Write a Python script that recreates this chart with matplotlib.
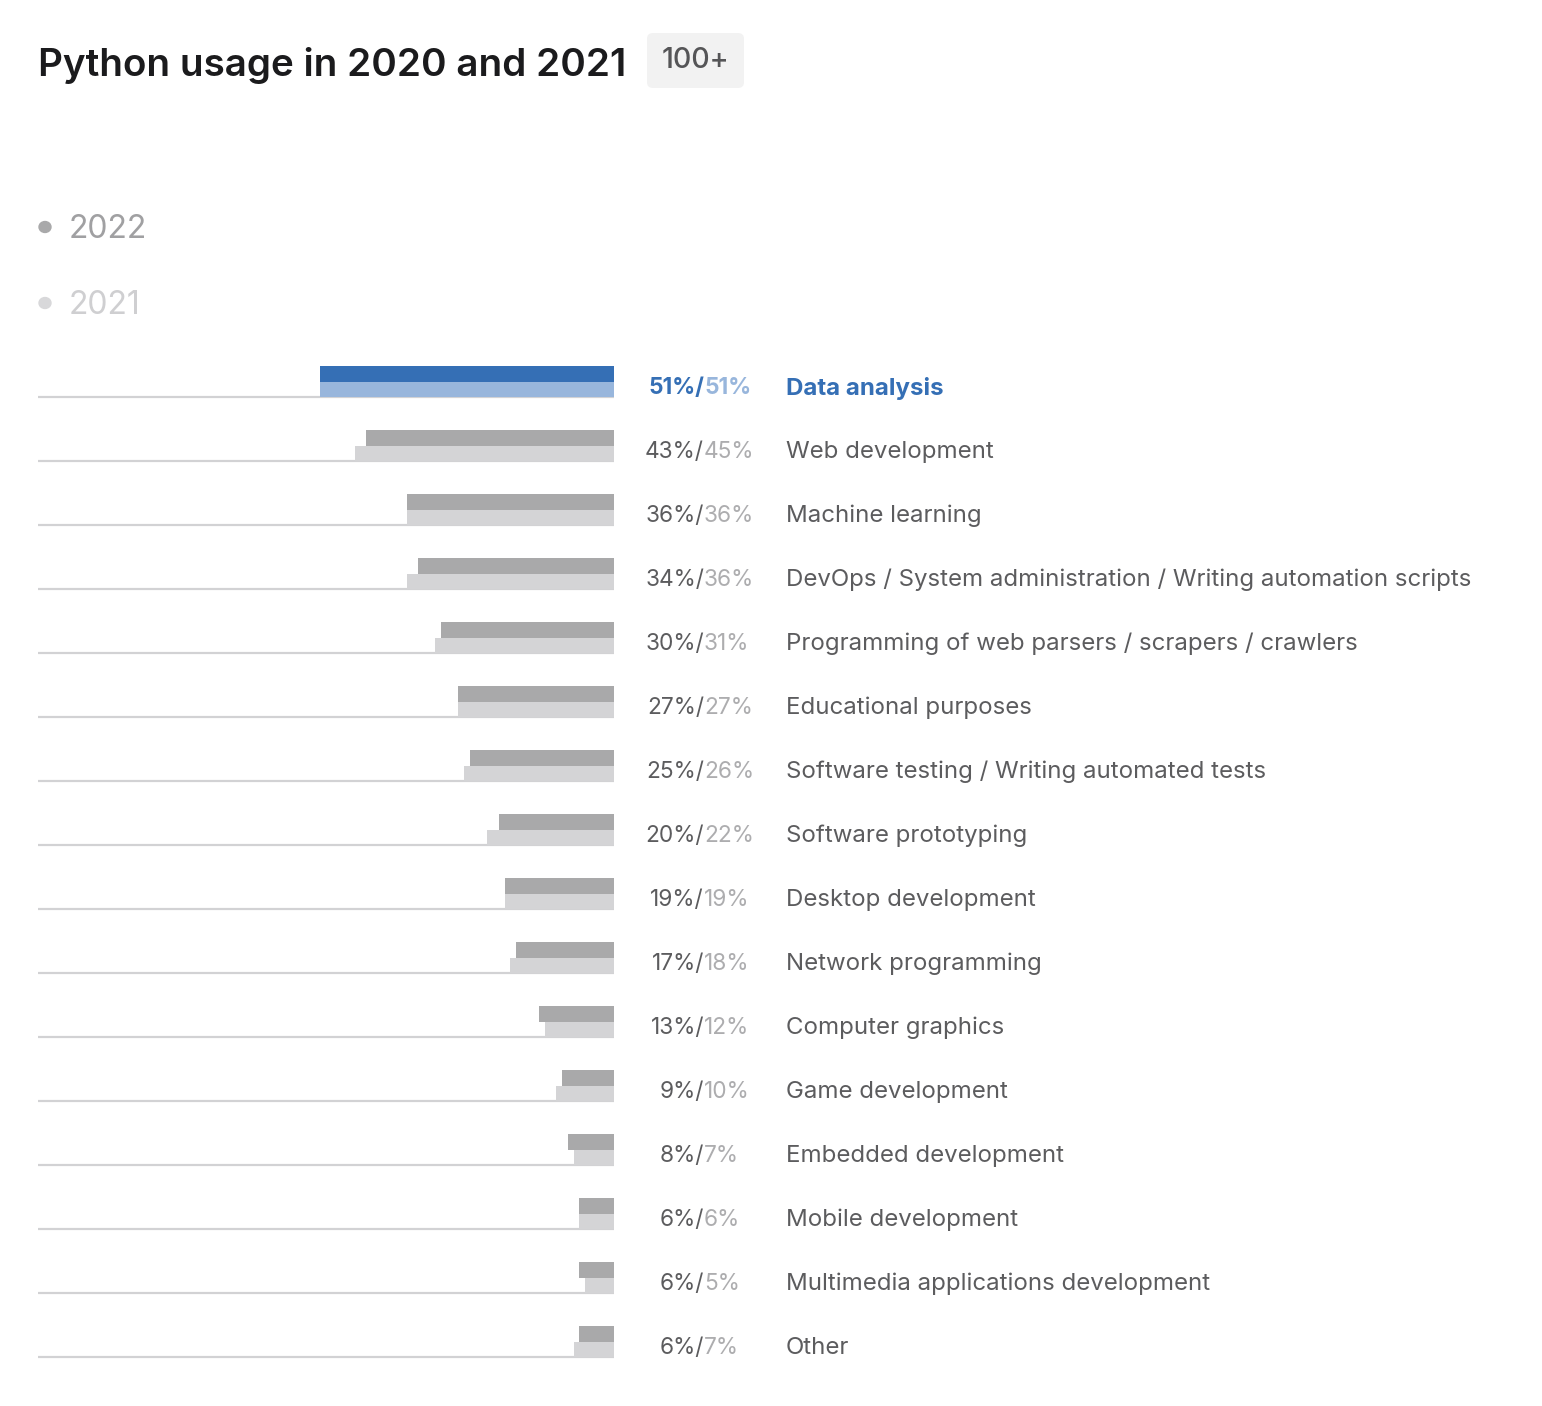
import matplotlib
matplotlib.use('Agg')
import matplotlib.pyplot as plt
from matplotlib.patches import FancyBboxPatch
import matplotlib.transforms as mtransforms

plt.rcParams['font.family'] = ['Inter', 'DejaVu Sans']

categories = ['Data analysis', 'Web development', 'Machine learning',
              'DevOps / System administration / Writing automation scripts',
              'Programming of web parsers / scrapers / crawlers',
              'Educational purposes', 'Software testing / Writing automated tests',
              'Software prototyping', 'Desktop development', 'Network programming',
              'Computer graphics', 'Game development', 'Embedded development',
              'Mobile development', 'Multimedia applications development', 'Other']
values_2022 = [51, 43, 36, 34, 30, 27, 25, 20, 19, 17, 13, 9, 8, 6, 6, 6]
values_2021 = [51, 45, 36, 36, 31, 27, 26, 22, 19, 18, 12, 10, 7, 6, 5, 7]

W, H = 1542, 1406
fig = plt.figure(figsize=(W / 100, H / 100), dpi=100)

# bar area: x 38..614 px, rows every 64 px, first baseline at 397 px
ax_l, ax_r = 38, 614
ax_top, ax_bot = 397 - 0.75 * 64, 397 + 15.25 * 64
ax = fig.add_axes([ax_l / W, 1 - ax_bot / H, (ax_r - ax_l) / W, (ax_bot - ax_top) / H])
ax.set_xlim(100, 0)
ax.set_ylim(15.25, -0.75)
ax.axis('off')

hb = 15.5 / 64
dark, light = '#a9a9aa', '#d4d4d6'
blue_d, blue_l = '#356fb5', '#98b6dc'

for i, (a, b) in enumerate(zip(values_2022, values_2021)):
    c1, c2 = (blue_d, blue_l) if i == 0 else (dark, light)
    ax.plot([100, 0], [i, i], color='#d2d2d4', lw=1.6, solid_capstyle='butt', zorder=1)
    ax.barh(i - hb / 2, b, height=hb, color=c2, zorder=2)
    ax.barh(i - hb * 1.5, a, height=hb, color=c1, zorder=2)

    tr = mtransforms.blended_transform_factory(fig.transFigure, ax.transData)
    ty = i - 9 / 64
    if i == 0:
        k1, k2, kl, fw = blue_d, blue_l, blue_d, 'bold'
    else:
        k1, k2, kl, fw = '#5c5c5e', '#adadaf', '#5c5c5e', 'normal'
    ax.text(704 / W, ty, f'{a}%/', transform=tr, ha='right', va='center',
            fontsize=16.3, color=k1, fontweight=fw)
    ax.text(704 / W, ty, f'{b}%', transform=tr, ha='left', va='center',
            fontsize=16.3, color=k2, fontweight=fw)
    ax.text(786 / W, ty, categories[i], transform=tr, ha='left', va='center',
            fontsize=17.3, color=kl, fontweight=fw)

# title and badge
fig.text(38 / W, 1 - 76 / H, 'Python usage in 2020 and 2021', ha='left', va='baseline',
         fontsize=27.8, fontweight='semibold', color='#1b1b1d')
badge = FancyBboxPatch((647 / W, 1 - 88 / H), 97 / W, 55 / H,
                       boxstyle='round,pad=0,rounding_size=0.004',
                       transform=fig.transFigure, facecolor='#f2f2f2', edgecolor='none')
fig.patches.append(badge)
fig.text(695 / W, 1 - 61 / H, '100+', ha='center', va='center',
         fontsize=20.5, color='#555557', fontweight='medium')

# legend
for y, lab, dc, tc in [(227, '2022', '#a9a9aa', '#a0a0a2'), (303, '2021', '#d8d8da', '#cfcfd1')]:
    fig.add_artist(plt.Circle((45 / W, 1 - y / H), 6 / W, transform=fig.transFigure,
                              color=dc))
    fig.text(69 / W, 1 - (y + 3) / H, lab, ha='left', va='center', fontsize=23, color=tc)

fig.savefig('out.png', dpi=100)
